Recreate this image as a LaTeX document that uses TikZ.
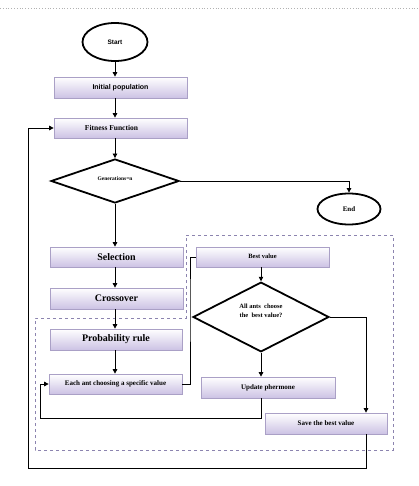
\documentclass[tikz,border=0pt]{standalone}
\usepackage{fontspec}
\setmainfont{Liberation Serif}
\newfontfamily\sansf{Liberation Sans}
\usetikzlibrary{shapes.geometric,arrows.meta}
\definecolor{boxbot}{RGB}{204,194,228}
\definecolor{boxedge}{RGB}{170,160,198}
\definecolor{dashcol}{RGB}{140,132,175}
\tikzset{
  pbox/.style={rectangle,minimum width=133pt,minimum height=21pt,inner sep=0pt,
    top color=white,bottom color=boxbot,draw=boxedge,line width=0.7pt,
    font=\bfseries\fontsize{7.5}{9}\selectfont},
  bigtxt/.style={font=\bfseries\fontsize{10}{12}\selectfont},
  term/.style={ellipse,draw,line width=1.8pt,inner sep=0pt},
  dec/.style={diamond,draw,line width=1.8pt,inner sep=0pt,align=center},
  arr/.style={-{Triangle[length=4.5pt,width=4.5pt]},line width=0.8pt},
  conn/.style={line width=0.8pt},
  region/.style={draw=dashcol,dashed,line width=0.7pt}
}
\begin{document}
\begin{tikzpicture}[x=1pt,y=-1pt]
\useasboundingbox (0,0) rectangle (419,486);
\draw[gray!60,dotted,line width=0.8pt] (0,8) -- (419,8);

% dashed region
\draw[region] (186,235) -- (393,235) -- (393,450) -- (35,450) -- (35,318) -- (186,318) -- cycle;

\node[term,minimum width=65pt,minimum height=38pt,font=\sansf\bfseries\fontsize{6.5}{8}\selectfont] (start) at (115,42) {Start};
\node[pbox,font=\sansf\bfseries\fontsize{7}{9}\selectfont] (init) at (120.5,87.5) {Initial population};
\node[pbox,minimum height=20pt] (fit) at (120.5,128) {\hspace*{-18pt}Fitness Function};
\node[dec,minimum width=128pt,minimum height=44pt,font=\bfseries\fontsize{5.5}{7}\selectfont] (d1) at (115,181) {\raisebox{4pt}{Generations=n}};
\node[term,minimum width=63pt,minimum height=31pt,font=\bfseries\fontsize{7}{9}\selectfont] (endn) at (349,209) {End};

\node[pbox,bigtxt,minimum height=20pt] (sel) at (116.5,257) {Selection};
\node[pbox,bigtxt] (cro) at (116.5,298.5) {Crossover};
\node[pbox,bigtxt,minimum width=132pt] (prob) at (116,339.5) {Probability rule};
\node[pbox,minimum height=20pt,font=\bfseries\fontsize{7}{9}\selectfont] (each) at (115.5,384) {\raisebox{1.5pt}{Each ant choosing a specific value}};

\node[pbox,minimum height=20pt,font=\bfseries\fontsize{6.5}{8}\selectfont] (best) at (262.5,257) {\raisebox{1.5pt}{Best value}};
\node[dec,minimum width=136pt,minimum height=59pt,font=\bfseries\fontsize{6.5}{9.5}\selectfont] (d2) at (261,317) {All ants\ \ choose\\the\ \ best value?\\[3pt]};
\node[pbox,minimum width=134pt,font=\bfseries\fontsize{7}{9}\selectfont] (upd) at (268,387.5) {Update phermone};
\node[pbox,minimum width=122pt,font=\bfseries\fontsize{7}{9}\selectfont] (save) at (326,423.5) {Save the best value};

\coordinate (c115) at (115,0);
\coordinate (fb1) at (40,418);
\coordinate (fb2) at (190,300);
\coordinate (ds) at (366,317);
\coordinate (lb) at (28,468);

\draw[arr] (start.south) -- (start.south |- init.north);
\draw[arr] (c115 |- init.south) -- (c115 |- fit.north);
\draw[arr] (c115 |- fit.south) -- (d1.north);
\draw[arr] (d1.east) -| (endn.north);
\draw[arr] (d1.south) -- (d1.south |- sel.north);
\draw[arr] (c115 |- sel.south) -- (c115 |- cro.north);
\draw[arr] (c115 |- cro.south) -- (c115 |- prob.north);
\draw[arr] (c115 |- prob.south) -- (c115 |- each.north);
\draw[conn] (each.east) -| (fb2) |- (best.west);
\draw[arr] (d2.north |- best.south) -- (d2.north);
\draw[arr] (d2.south) -- (d2.south |- upd.north);
\draw[arr] (d2.south |- upd.south) |- (fb1) |- (each.west);
\draw[arr] (d2.east) -- (ds) -- (ds |- save.north);
\draw[arr] (ds |- save.south) |- (lb) |- (fit.west);
\end{tikzpicture}
\end{document}
